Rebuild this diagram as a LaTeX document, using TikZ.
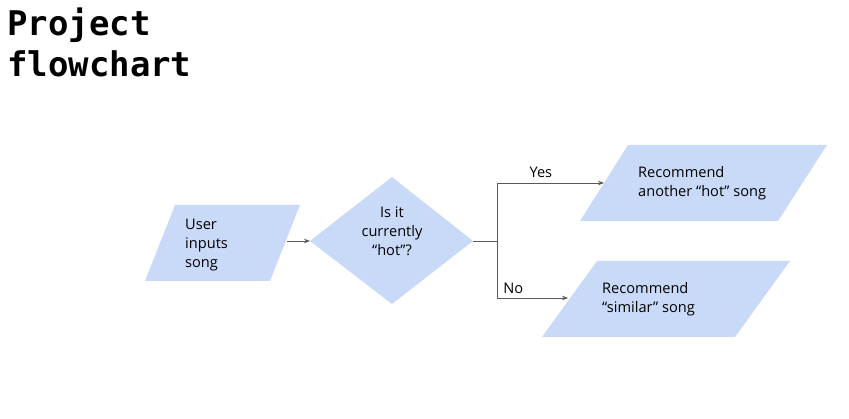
\documentclass[tikz,border=0pt]{standalone}
\usepackage{fontspec}
\setmainfont{Open Sans}
\newfontfamily\titlefont{DejaVu Sans Mono}
\usetikzlibrary{arrows.meta}
\definecolor{boxfill}{HTML}{C9DAF8}
\definecolor{linegray}{HTML}{595959}
\begin{document}
\begin{tikzpicture}[x=1pt,y=-1pt,
  shapefill/.style={fill=boxfill,draw=none},
  txt/.style={inner sep=0pt,font=\fontsize{14.6}{19}\selectfont,align=left},
  ctxt/.style={inner sep=0pt,font=\fontsize{14.6}{19}\selectfont,align=center},
  conn/.style={draw=linegray,line width=0.9pt,-{Stealth[length=6pt,width=4.5pt]}},
  plain/.style={draw=linegray,line width=0.9pt}]
\useasboundingbox (0,0) rectangle (849,419);
% title
\node[anchor=base west,inner sep=0pt,font=\titlefont\bfseries\fontsize{34}{41}\selectfont,align=left] (title) at (7,77) {Project\\flowchart};
% input parallelogram
\path[shapefill] (175,205) -- (300,205) -- (270,281) -- (145,281) -- cycle;
\node[txt,anchor=base west] (input) at (185,268) {User\\inputs\\song};
\coordinate (inR) at (287,241);
% diamond
\path[shapefill] (310,241) -- (392,177) -- (473,241) -- (392,304) -- cycle;
\node[ctxt,anchor=base] (dec) at (392,256) {Is it\\currently\\“hot”?};
\coordinate (decL) at (310,241);
\coordinate (decR) at (473,241);
\coordinate (split) at (497,241);
\coordinate (yesC) at (497,183);
\coordinate (noC) at (497,298);
% yes box
\path[shapefill] (628,145) -- (827,145) -- (778,221) -- (580,221) -- cycle;
\node[txt,anchor=base west] (yes) at (638,197) {Recommend\\another “hot” song};
\coordinate (yesL) at (604,183);
% no box
\path[shapefill] (597,261) -- (790,261) -- (735,337) -- (542,337) -- cycle;
\node[txt,anchor=base west] (no) at (602,313) {Recommend\\“similar” song};
\coordinate (noL) at (568,298);
% connectors
\draw[conn] (inR) -- (decL);
\draw[plain] (decR) -- (split);
\draw[plain] (yesC) -- (noC);
\draw[conn] (yesC) -- node[txt,anchor=base,pos=0.41,yshift=5pt] {Yes} (yesL);
\draw[conn] (noC) -- node[txt,anchor=base west,pos=0,xshift=6pt,yshift=4pt] {No} (noL);
\end{tikzpicture}
\end{document}
